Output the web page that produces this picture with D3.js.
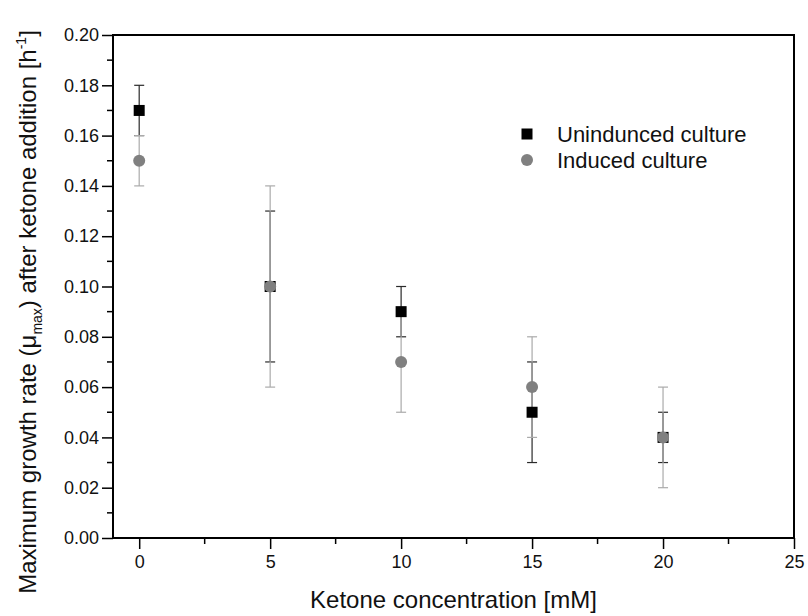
<!DOCTYPE html>
<html>
<head>
<meta charset="utf-8">
<script src="https://cdn.jsdelivr.net/npm/d3@7"></script>
<style>
  body { margin: 0; background: #fff; }
  svg { display: block; }
  text { font-family: "Liberation Sans", Arial, sans-serif; fill: #111; }
</style>
</head>
<body>
<svg id="chart" width="808" height="616"></svg>
<script>
// Ketone concentrations (mM)
const concentrations = [0, 5, 10, 15, 20];
// Maximum growth rate, uninduced culture, with standard deviation
const uninducedMean = [0.17, 0.10, 0.09, 0.05, 0.04];
const uninducedErr  = [0.01, 0.03, 0.01, 0.02, 0.01];
// Maximum growth rate, induced culture, with standard deviation
const inducedMean = [0.15, 0.10, 0.07, 0.06, 0.04];
const inducedErr  = [0.01, 0.04, 0.02, 0.02, 0.02];
// Axis ticks
const xTicks = [0, 5, 10, 15, 20, 25];
const yTicks = [0, 0.02, 0.04, 0.06, 0.08, 0.10, 0.12, 0.14, 0.16, 0.18, 0.20];
const seriesNames = ["Unindunced culture", "Induced culture"];

const svg = d3.select("#chart");
const m = { left: 113, right: 794, top: 35, bottom: 538 };

const x = d3.scaleLinear().domain([-1, 25]).range([m.left, m.right]);
const y = d3.scaleLinear().domain([0, 0.20]).range([m.bottom, m.top]);

// Frame
svg.append("rect")
  .attr("x", m.left).attr("y", m.top)
  .attr("width", m.right - m.left).attr("height", m.bottom - m.top)
  .attr("fill", "none").attr("stroke", "#000").attr("stroke-width", 2);

// Y axis: major ticks with labels, minor ticks between
const yAxis = d3.axisLeft(y).tickValues(yTicks).tickFormat(d3.format(".2f"))
  .tickSize(11).tickPadding(3);
const gy = svg.append("g").attr("transform", `translate(${m.left},0)`).call(yAxis);
gy.select(".domain").remove();
gy.selectAll(".tick line").attr("stroke", "#000").attr("stroke-width", 1.5);
gy.selectAll(".tick text").style("font-size", "18px").attr("fill", "#111");
const yMinor = d3.range(0.01, 0.20, 0.02);
svg.append("g").selectAll("line").data(yMinor).join("line")
  .attr("x1", m.left - 6).attr("x2", m.left)
  .attr("y1", d => y(d)).attr("y2", d => y(d))
  .attr("stroke", "#000").attr("stroke-width", 1.5);

// X axis
const xAxis = d3.axisBottom(x).tickValues(xTicks).tickSize(11).tickPadding(6);
const gx = svg.append("g").attr("transform", `translate(0,${m.bottom})`).call(xAxis);
gx.select(".domain").remove();
gx.selectAll(".tick line").attr("stroke", "#000").attr("stroke-width", 1.5);
gx.selectAll(".tick text").style("font-size", "18px").attr("fill", "#111");
const xMinor = [2.5, 7.5, 12.5, 17.5, 22.5];
svg.append("g").selectAll("line").data(xMinor).join("line")
  .attr("x1", d => x(d)).attr("x2", d => x(d))
  .attr("y1", m.bottom).attr("y2", m.bottom + 6)
  .attr("stroke", "#000").attr("stroke-width", 1.5);

// Axis titles
svg.append("text")
  .attr("x", (m.left + m.right) / 2).attr("y", 608)
  .attr("text-anchor", "middle").style("font-size", "24px")
  .text("Ketone concentration [mM]");

const yt = svg.append("text")
  .attr("transform", `translate(36,312) rotate(-90)`)
  .attr("text-anchor", "middle").style("font-size", "24px");
yt.append("tspan").text("Maximum growth rate (μ");
yt.append("tspan").attr("dy", 6).style("font-size", "14px").text("max");
yt.append("tspan").attr("dy", -6).text(") after ketone addition [h");
yt.append("tspan").attr("dy", -10).style("font-size", "14px").text("-1");
yt.append("tspan").attr("dy", 10).text("]");

const uninduced = concentrations.map((c, i) => ({ c, v: uninducedMean[i], e: uninducedErr[i] }));
const induced = concentrations.map((c, i) => ({ c, v: inducedMean[i], e: inducedErr[i] }));

function errorBars(data, color) {
  const g = svg.append("g").attr("stroke", color).attr("stroke-width", 1.2);
  g.selectAll("line.v").data(data).join("line").attr("class", "v")
    .attr("x1", d => x(d.c)).attr("x2", d => x(d.c))
    .attr("y1", d => y(d.v - d.e)).attr("y2", d => y(d.v + d.e));
  ["lo", "hi"].forEach(k => {
    g.selectAll("line." + k).data(data).join("line").attr("class", k)
      .attr("x1", d => x(d.c) - 5).attr("x2", d => x(d.c) + 5)
      .attr("y1", d => y(k === "lo" ? d.v - d.e : d.v + d.e))
      .attr("y2", d => y(k === "lo" ? d.v - d.e : d.v + d.e));
  });
}

errorBars(uninduced, "#2a2a2a");
errorBars(induced, "#aaa");

// Uninduced: black squares
svg.append("g").selectAll("rect").data(uninduced).join("rect")
  .attr("x", d => x(d.c) - 5.5).attr("y", d => y(d.v) - 5.5)
  .attr("width", 11).attr("height", 11).attr("fill", "#000");

// Induced: grey circles
svg.append("g").selectAll("circle").data(induced).join("circle")
  .attr("cx", d => x(d.c)).attr("cy", d => y(d.v)).attr("r", 6)
  .attr("fill", "#808080");

// Legend
const legend = svg.append("g");
legend.append("rect").attr("x", 527 - 5.5).attr("y", 134 - 5.5)
  .attr("width", 11).attr("height", 11).attr("fill", "#000");
legend.append("circle").attr("cx", 527).attr("cy", 160).attr("r", 6).attr("fill", "#808080");
legend.selectAll("text").data(seriesNames).join("text")
  .attr("x", 557).attr("y", (d, i) => 134 + i * 26 + 7.5)
  .style("font-size", "22px").text(d => d);
</script>
</body>
</html>
